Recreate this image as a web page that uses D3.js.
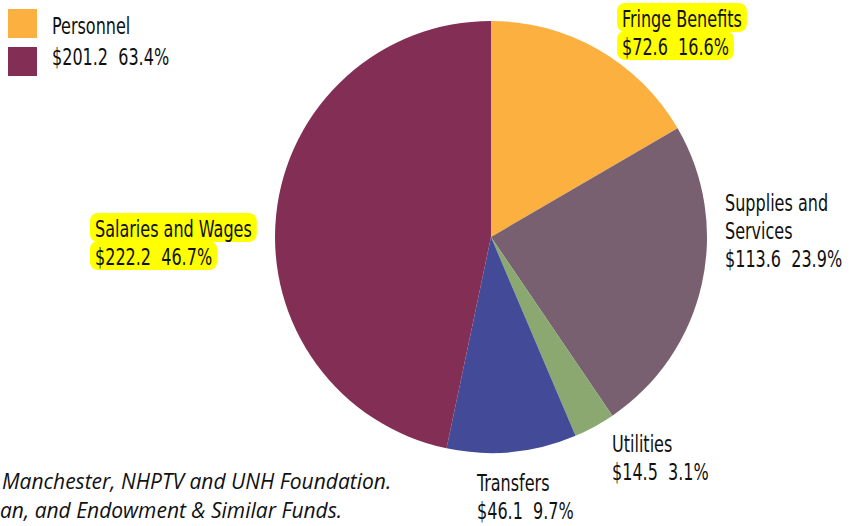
<!DOCTYPE html>
<html>
<head>
<meta charset="utf-8">
<script src="https://cdn.jsdelivr.net/npm/d3@7"></script>
<style>
  body { margin: 0; background: #fff; }
  text { font-family: "DejaVu Sans Condensed", "DejaVu Sans", sans-serif; fill: #111; }
  .note { font-family: "Open Sans", "Liberation Sans", sans-serif; font-style: italic; }
</style>
</head>
<body>
<svg id="chart" width="860" height="526"></svg>
<script>
// data, clockwise from 12 o'clock
var categories = ["Fringe Benefits", "Supplies and Services", "Utilities", "Transfers", "Salaries and Wages"];
var amounts = [72.6, 113.6, 14.5, 46.1, 222.2];
var percents = [16.6, 23.9, 3.1, 9.7, 46.7];
var colors = ["#fbb040", "#786070", "#8aa870", "#434a98", "#832f55"];
var legendItems = ["Personnel", "$201.2  63.4%"];
var legendColors = ["#fbb040", "#832f55"];
var noteLines = ["Manchester, NHPTV and UNH Foundation.", "an, and Endowment & Similar Funds."];

// label placement (layout only)
var labelLines = [
    ["Fringe Benefits"],
    ["Supplies and", "Services"],
    ["Utilities"],
    ["Transfers"],
    ["Salaries and Wages"]
];
var labelPos = [[622, 27], [725, 211], [612, 452], [477, 491], [95, 237]];
var highlighted = [true, false, false, false, true];

var svg = d3.select("#chart");
var cx = 491, cy = 237, r = 216;
var lineH = 28;
var squeeze = 0.775; // condensed look of the original type

var pie = d3.pie().sort(null).value(function(d) { return d; });
var arc = d3.arc().innerRadius(0).outerRadius(r);

var g = svg.append("g").attr("transform", "translate(" + cx + "," + cy + ")");
g.selectAll("path")
    .data(pie(percents))
    .enter().append("path")
    .attr("d", arc)
    .attr("fill", function(d, i) { return colors[i]; });

function narrowText(x, y, s) {
    return svg.append("text")
        .attr("transform", "translate(" + x + "," + y + ") scale(" + squeeze + ",1)")
        .style("font-size", "23px")
        .style("white-space", "pre")
        .text(s);
}

// legend
legendItems.forEach(function(t, i) {
    svg.append("rect")
        .attr("x", 8).attr("y", 9 + i * 38)
        .attr("width", 29).attr("height", 29)
        .attr("fill", legendColors[i]);
    narrowText(52, 34 + i * 31, t);
});

// slice labels
var hl = svg.append("g");
categories.forEach(function(c, i) {
    var lines = labelLines[i].concat(["$" + amounts[i].toFixed(1) + "  " + percents[i].toFixed(1) + "%"]);
    lines.forEach(function(l, j) {
        var y = labelPos[i][1] + j * lineH;
        var t = narrowText(labelPos[i][0], y, l);
        if (highlighted[i]) {
            var w = t.node().getBBox().width * squeeze;
            hl.append("rect")
                .attr("x", labelPos[i][0] - 5).attr("y", y - 24)
                .attr("width", w + 10).attr("height", 29)
                .attr("rx", 8)
                .attr("fill", "#ffff00");
        }
    });
});

// footnote, cut off at the left edge
noteLines.forEach(function(l, i) {
    svg.append("text")
        .attr("class", "note")
        .attr("x", i === 0 ? 2 : 0)
        .attr("y", 489 + i * 29)
        .style("font-size", "21px")
        .text(l);
});
</script>
</body>
</html>
